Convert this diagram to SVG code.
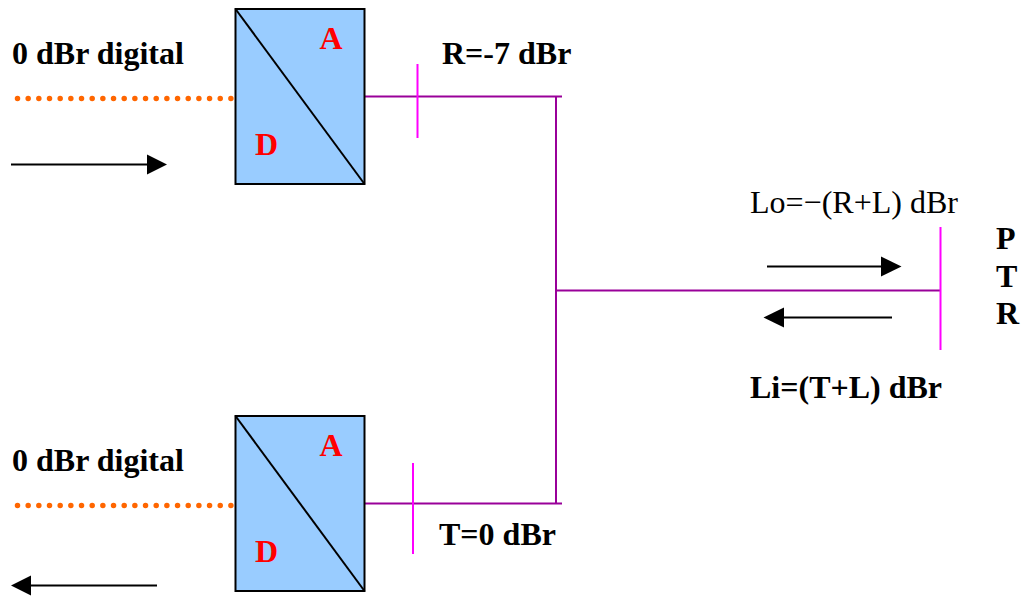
<svg xmlns="http://www.w3.org/2000/svg" width="1022" height="596" viewBox="0 0 1022 596">
<defs>
<style>
text{font-family:"Liberation Serif","Times New Roman",serif;font-size:32px;font-weight:bold;fill:#000}
.red{fill:#f00}
.reg{font-weight:normal}
.box{fill:#99ccff;stroke:#000;stroke-width:2}
.diag{stroke:#000;stroke-width:2;fill:none}
.wire{stroke:#990099;stroke-width:2;fill:none}
.tick{stroke:#ff00ff;stroke-width:2;fill:none}
.dots{stroke:#ff6600;stroke-width:5.500;stroke-linecap:round;stroke-dasharray:0 10.67;fill:none}
.arrow{stroke:#000;stroke-width:2;fill:none}
</style>
</defs>
<rect width="1022" height="596" fill="#fff"/>
<g id="connectors">
<path class="wire" d="M364 96.500H562M556 96.500V503.500M364 503.500H562M556 290.500H940"/>
<path class="tick" d="M417.500 64V138M413 463V554M940.500 227V350"/>
<path class="dots" d="M17.500 98.500H234"/>
<path class="dots" d="M17.500 505.500H234"/>
<g id="arrows">
<path class="arrow" d="M11 164.500H148"/><path d="M167 164.500L147 154.500V174.500Z"/>
<path class="arrow" d="M767 266.500H882"/><path d="M901.500 266.500L881 256.500V276.500Z"/>
<path class="arrow" d="M892 317.500H783"/><path d="M763.500 317.500L784 307.500V327.500Z"/>
<path class="arrow" d="M157 585.500H30"/><path d="M11 585.500L31 575.500V595.500Z"/>
</g>
</g>
<g id="converter-top">
<rect class="box" x="235.500" y="9" width="129" height="175"/>
<path class="diag" d="M235.500 9L364.500 184"/>
<text class="red" x="319.500" y="49">A</text>
<text class="red" x="255" y="155">D</text>
</g>
<g id="converter-bottom">
<rect class="box" x="235.500" y="416" width="129" height="175"/>
<path class="diag" d="M235.500 416L364.500 591"/>
<text class="red" x="319.500" y="456">A</text>
<text class="red" x="255" y="562">D</text>
</g>
<g id="labels">
<text x="12" y="64">0 dBr digital</text>
<text x="12" y="471">0 dBr digital</text>
<text x="442" y="64">R=-7 dBr</text>
<text x="439" y="545">T=0 dBr</text>
<text class="reg" x="750" y="213">Lo=−(R+L) dBr</text>
<text x="750" y="398">Li=(T+L) dBr</text>
<text x="996" y="249">P</text>
<text x="996" y="287">T</text>
<text x="996" y="324">R</text>
</g>
</svg>
